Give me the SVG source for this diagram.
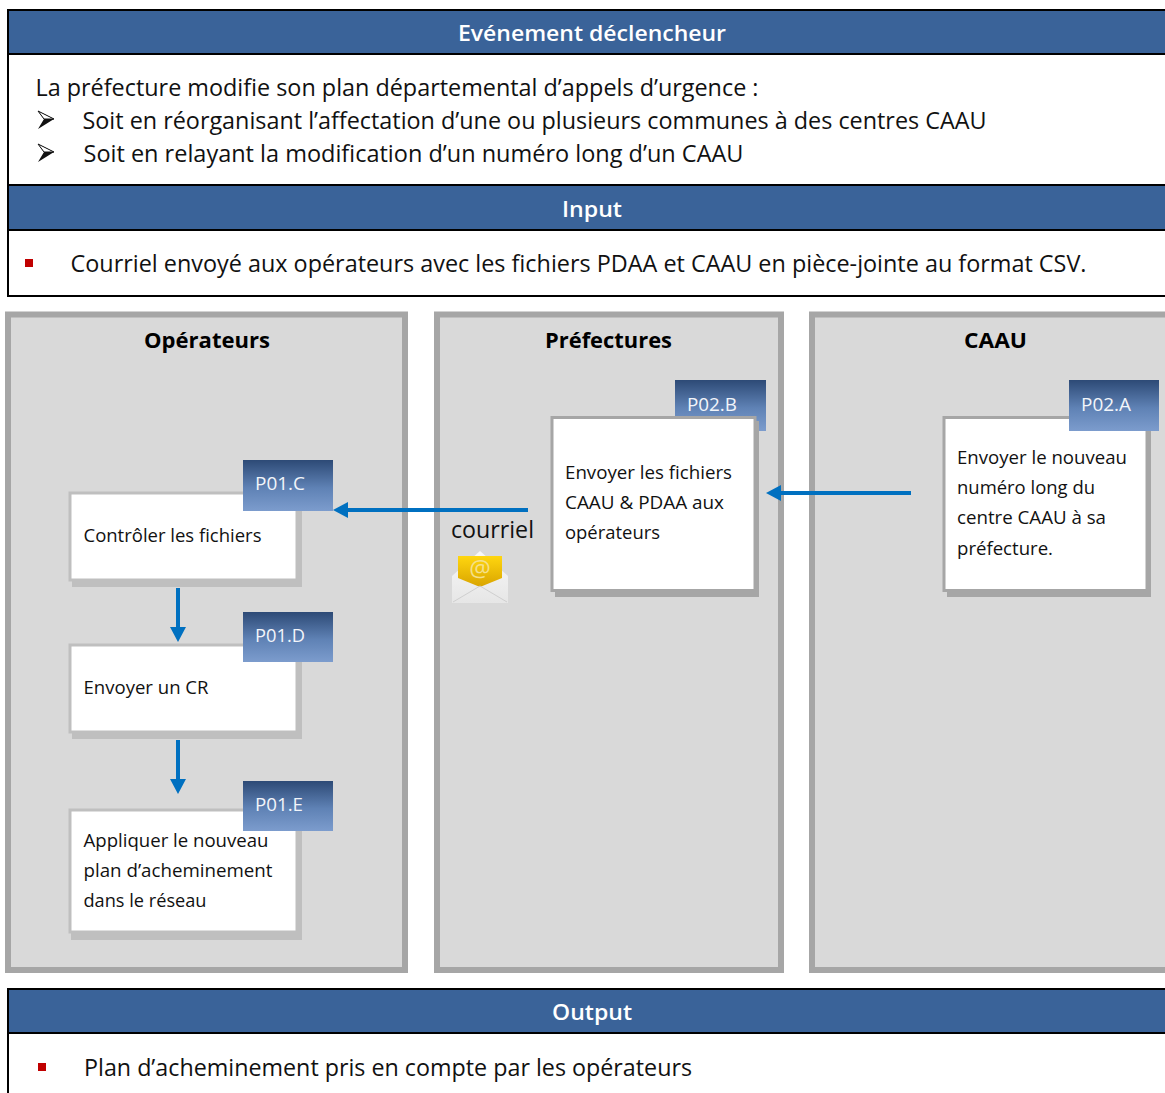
<svg xmlns="http://www.w3.org/2000/svg" width="1165" height="1093" viewBox="0 0 1165 1093">
<style>
text{font-family:"Open Sans","Noto Sans","Liberation Sans",sans-serif;fill:#111}
.hd{fill:#3a6399}
.rule{stroke:#000;stroke-width:2;fill:none}
.hdt{font-size:22px;font-weight:600;fill:#fff;text-anchor:middle}
.body{font-size:23px}
.panel{fill:#d9d9d9;stroke:#a6a6a6;stroke-width:6}
.pt{font-size:22px;font-weight:700;fill:#000;text-anchor:middle}
.box{fill:#fff;stroke-width:3}
.nt{font-size:18.5px}
.tag{fill:url(#tagG)}
.tagt{font-size:18.5px;fill:#f2f5fa}
.conn{stroke:#0070c0;stroke-width:4;fill:none;marker-end:url(#arr)}
.bul{fill:#c00000}
</style>
<defs>
<linearGradient id="tagG" x1="0" y1="0" x2="0" y2="1"><stop offset="0" stop-color="#2d4a76"/><stop offset=".55" stop-color="#5f82b5"/><stop offset="1" stop-color="#7c9ccd"/></linearGradient>
<linearGradient id="envB" x1="0" y1="0" x2="0" y2="1"><stop offset="0" stop-color="#f8f8f8"/><stop offset="1" stop-color="#e6e6e6"/></linearGradient>
<linearGradient id="envY" x1="0" y1="0" x2="0" y2="1"><stop offset="0" stop-color="#ffd60f"/><stop offset="1" stop-color="#d9a400"/></linearGradient>
<marker id="arr" markerUnits="userSpaceOnUse" markerWidth="16" markerHeight="16" refX="5" refY="8" orient="auto"><path d="M0 0L15 8L0 16Z" fill="#0070c0"/></marker>
</defs>

<g id="section-evenement">
<rect class="hd" x="8" y="10" width="1157" height="44"/>
<path class="rule" d="M1165 10H8V296H1165M8 54H1165M8 185H1165M8 230H1165"/>
<rect class="hd" x="9" y="186" width="1156" height="43"/>
<text class="hdt" x="592" y="41" textLength="268" lengthAdjust="spacingAndGlyphs">Evénement déclencheur</text>
<text class="body" x="35.5" y="96" textLength="723" lengthAdjust="spacingAndGlyphs">La préfecture modifie son plan départemental d’appels d’urgence :</text>
<path d="M38 111L54 119L38 129L44 119Z" fill="#111"/><path d="M38 111L54 119L44 119Z" fill="#fff" stroke="#111"/>
<text class="body" x="82.5" y="129" textLength="904" lengthAdjust="spacingAndGlyphs">Soit en réorganisant l’affectation d’une ou plusieurs communes à des centres CAAU</text>
<path d="M38 144L54 152L38 162L44 152Z" fill="#111"/><path d="M38 144L54 152L44 152Z" fill="#fff" stroke="#111"/>
<text class="body" x="83.5" y="162" textLength="660" lengthAdjust="spacingAndGlyphs">Soit en relayant la modification d’un numéro long d’un CAAU</text>
</g>

<g id="section-input">
<text class="hdt" x="592" y="217" textLength="60" lengthAdjust="spacingAndGlyphs">Input</text>
<rect class="bul" x="25" y="259" width="8" height="8"/>
<text class="body" x="70.5" y="272" textLength="1016" lengthAdjust="spacingAndGlyphs">Courriel envoyé aux opérateurs avec les fichiers PDAA et CAAU en pièce-jointe au format CSV.</text>
</g>

<g id="lane-operateurs">
<rect class="panel" x="8" y="314.5" width="397" height="655.5"/>
<text class="pt" x="207" y="348" textLength="126" lengthAdjust="spacingAndGlyphs">Opérateurs</text>
</g>
<g id="lane-prefectures">
<rect class="panel" x="437" y="314.5" width="344" height="655.5"/>
<text class="pt" x="608.5" y="348" textLength="127" lengthAdjust="spacingAndGlyphs">Préfectures</text>
</g>
<g id="lane-caau">
<rect class="panel" x="812" y="314.5" width="360" height="655.5"/>
<text class="pt" x="995.5" y="348" textLength="63" lengthAdjust="spacingAndGlyphs">CAAU</text>
</g>

<g id="node-p02b">
<rect class="tag" x="675" y="380" width="91" height="51"/>
<text class="tagt" x="687" y="411" textLength="50" lengthAdjust="spacingAndGlyphs">P02.B</text>
<rect x="555" y="421" width="204" height="176" fill="#a6a6a6"/>
<rect class="box" x="552" y="417.5" width="203" height="173" stroke="#a6a6a6"/>
<text class="nt" x="565" y="479" textLength="167" lengthAdjust="spacingAndGlyphs">Envoyer les fichiers</text>
<text class="nt" x="565" y="509" textLength="159" lengthAdjust="spacingAndGlyphs">CAAU &amp; PDAA aux</text>
<text class="nt" x="565" y="539" textLength="95" lengthAdjust="spacingAndGlyphs">opérateurs</text>
</g>

<g id="node-p02a">
<rect x="947" y="421" width="204" height="176" fill="#a6a6a6"/>
<rect class="box" x="944" y="417.5" width="203" height="173" stroke="#a6a6a6"/>
<rect class="tag" x="1069" y="380" width="90" height="51"/>
<text class="tagt" x="1081" y="411" textLength="50" lengthAdjust="spacingAndGlyphs">P02.A</text>
<text class="nt" x="957" y="464" textLength="170" lengthAdjust="spacingAndGlyphs">Envoyer le nouveau</text>
<text class="nt" x="957" y="494" textLength="138" lengthAdjust="spacingAndGlyphs">numéro long du</text>
<text class="nt" x="957" y="524" textLength="149" lengthAdjust="spacingAndGlyphs">centre CAAU à sa</text>
<text class="nt" x="957" y="555" textLength="96" lengthAdjust="spacingAndGlyphs">préfecture.</text>
</g>

<g id="node-p01c">
<rect x="72" y="496" width="230" height="91" fill="#bfbfbf"/>
<rect class="box" x="70" y="493" width="227" height="87" stroke="#bfbfbf"/>
<rect class="tag" x="243" y="460" width="90" height="51"/>
<text class="tagt" x="255" y="490" textLength="50" lengthAdjust="spacingAndGlyphs">P01.C</text>
<text class="nt" x="83.5" y="542" textLength="178" lengthAdjust="spacingAndGlyphs">Contrôler les fichiers</text>
</g>

<g id="node-p01d">
<rect x="72" y="648" width="230" height="91" fill="#bfbfbf"/>
<rect class="box" x="70" y="645" width="227" height="87" stroke="#bfbfbf"/>
<rect class="tag" x="243" y="612" width="90" height="50"/>
<text class="tagt" x="255" y="642" textLength="50" lengthAdjust="spacingAndGlyphs">P01.D</text>
<text class="nt" x="83.5" y="694" textLength="125" lengthAdjust="spacingAndGlyphs">Envoyer un CR</text>
</g>

<g id="node-p01e">
<rect x="71" y="813" width="231" height="127" fill="#bfbfbf"/>
<rect class="box" x="70" y="810" width="227" height="122" stroke="#bfbfbf"/>
<rect class="tag" x="243" y="781" width="90" height="50"/>
<text class="tagt" x="255" y="811" textLength="48" lengthAdjust="spacingAndGlyphs">P01.E</text>
<text class="nt" x="83.5" y="847" textLength="185" lengthAdjust="spacingAndGlyphs">Appliquer le nouveau</text>
<text class="nt" x="83.5" y="877" textLength="189" lengthAdjust="spacingAndGlyphs">plan d’acheminement</text>
<text class="nt" x="83.5" y="907" textLength="123" lengthAdjust="spacingAndGlyphs">dans le réseau</text>
</g>

<g id="connectors">
<path class="conn" d="M528 510H343"/>
<path class="conn" d="M911 493H776"/>
<path class="conn" d="M178 588V632"/>
<path class="conn" d="M178 740V784"/>
</g>

<g id="courriel-label">
<text x="451" y="538" font-size="24" textLength="83" lengthAdjust="spacingAndGlyphs">courriel</text>
<path d="M452 576L480 551L508 576V603H452Z" fill="url(#envB)"/>
<path d="M458 556H502V578L480 587L458 578Z" fill="url(#envY)"/>
<text x="480" y="577" font-size="24" text-anchor="middle" style="fill:#f5e08a">@</text>
<path d="M453 602L480 586L507 602" fill="none" stroke="#cfcfcf"/>
</g>

<g id="section-output">
<rect class="hd" x="8" y="989" width="1157" height="44"/>
<path class="rule" d="M1165 989H8V1093M8 1033H1165"/>
<text class="hdt" x="592" y="1020" textLength="80" lengthAdjust="spacingAndGlyphs">Output</text>
<rect class="bul" x="38" y="1063" width="8" height="8"/>
<text class="body" x="84" y="1076" textLength="608" lengthAdjust="spacingAndGlyphs">Plan d’acheminement pris en compte par les opérateurs</text>
</g>
</svg>
